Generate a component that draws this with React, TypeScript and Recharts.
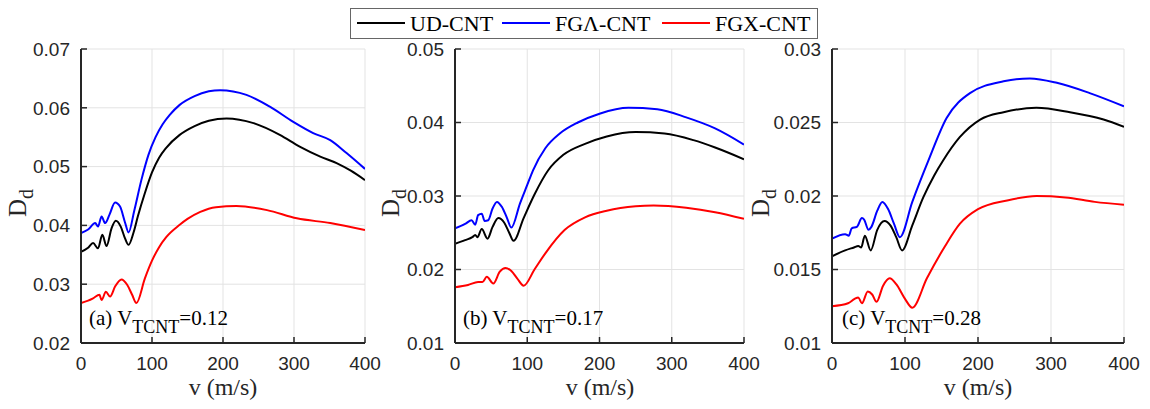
import { LineChart, Line, XAxis, YAxis, CartesianGrid } from 'recharts';

// Damping ratio D_d versus flow velocity v for three CNT distributions,
// one panel per CNT volume fraction.

type Pt = { v: number; d: number };
const pts = (rows: number[][]): Pt[] => rows.map(([v, d]) => ({ v, d }));

const X_TICKS = [0, 100, 200, 300, 400];

// ---- (a) V_TCNT = 0.12 ----
const UD_A = pts([
  [0, 0.0355], [10, 0.0362], [17, 0.037], [24, 0.0361], [30, 0.0384], [36, 0.0365],
  [43, 0.0395], [49, 0.0408], [56, 0.0398], [62, 0.0378], [67, 0.0367], [74, 0.0388],
  [80, 0.0415], [90, 0.0455], [100, 0.049], [110, 0.0515], [120, 0.0532], [139, 0.0554],
  [160, 0.0569], [180, 0.0578], [205, 0.0582], [243, 0.0574], [280, 0.0554], [308, 0.0534],
  [337, 0.0517], [360, 0.0506], [380, 0.0493], [400, 0.0477],
]);
const FGL_A = pts([
  [0, 0.0387], [10, 0.0393], [20, 0.0404], [24, 0.0398], [29, 0.0415], [34, 0.0404],
  [40, 0.0418], [48, 0.0439], [55, 0.0432], [62, 0.0405], [67, 0.0388], [75, 0.0425],
  [85, 0.0477], [95, 0.052], [105, 0.055], [115, 0.0572], [125, 0.0588], [139, 0.0605],
  [160, 0.062], [180, 0.0628], [196, 0.063], [233, 0.0622], [266, 0.0602], [299, 0.0576],
  [327, 0.0557], [351, 0.0545], [374, 0.0523], [400, 0.0496],
]);
const FGX_A = pts([
  [0, 0.0268], [10, 0.0272], [17, 0.0276], [26, 0.0282], [29, 0.0273], [35, 0.0287],
  [41, 0.0279], [48, 0.0296], [57, 0.0308], [65, 0.0299], [72, 0.0282], [78, 0.0268],
  [90, 0.031], [100, 0.034], [110, 0.0363], [120, 0.038], [139, 0.0401], [150, 0.0411],
  [168, 0.0423], [190, 0.0431], [219, 0.0433], [262, 0.0426], [304, 0.0412], [351, 0.0404],
  [400, 0.0392],
]);
const Y_TICKS_A = [0.02, 0.03, 0.04, 0.05, 0.06, 0.07];

// ---- (b) V_TCNT = 0.17 ----
const UD_B = pts([
  [0, 0.0235], [14, 0.024], [24, 0.0244], [28, 0.0247], [31, 0.0244], [37, 0.0255],
  [45, 0.0242], [52, 0.0258], [60, 0.027], [68, 0.0264], [75, 0.025], [81, 0.0239],
  [95, 0.027], [110, 0.0302], [129, 0.0335], [150, 0.0356], [180, 0.0371], [210, 0.0381],
  [250, 0.0387], [290, 0.0385], [330, 0.0376], [360, 0.0366], [400, 0.035],
]);
const FGL_B = pts([
  [0, 0.0256], [14, 0.0262], [23, 0.0267], [28, 0.0261], [32, 0.0274], [37, 0.0276],
  [41, 0.0266], [46, 0.0267], [52, 0.0283], [58, 0.0292], [65, 0.0285], [72, 0.027],
  [78, 0.0257], [90, 0.029], [100, 0.0315], [108, 0.0335], [125, 0.0365], [145, 0.0385],
  [170, 0.04], [200, 0.0412], [240, 0.042], [280, 0.0418], [320, 0.0407], [360, 0.0392],
  [400, 0.037],
]);
const FGX_B = pts([
  [0, 0.0176], [18, 0.0179], [32, 0.0183], [38, 0.0183], [44, 0.019], [53, 0.0181],
  [62, 0.0197], [70, 0.0202], [78, 0.0198], [86, 0.0188], [95, 0.0178], [110, 0.02],
  [125, 0.0222], [152, 0.0254], [180, 0.0271], [210, 0.028], [250, 0.0286], [275, 0.0287],
  [320, 0.0284], [360, 0.0278], [400, 0.0269],
]);
const Y_TICKS_B = [0.01, 0.02, 0.03, 0.04, 0.05];

// ---- (c) V_TCNT = 0.28 ----
const UD_C = pts([
  [0, 0.0159], [18, 0.0163], [30, 0.0165], [36, 0.0166], [40, 0.0165], [45, 0.0173],
  [53, 0.0163], [62, 0.0177], [72, 0.0183], [80, 0.018], [88, 0.0172], [96, 0.0163],
  [110, 0.018], [125, 0.0199], [140, 0.0214], [152, 0.0224], [175, 0.024], [203, 0.0252],
  [235, 0.0257], [280, 0.026], [326, 0.0257], [372, 0.0252], [400, 0.0247],
]);
const FGL_C = pts([
  [0, 0.0171], [18, 0.0174], [23, 0.0173], [27, 0.0178], [34, 0.0179], [41, 0.0185],
  [44, 0.0184], [50, 0.0177], [54, 0.0179], [62, 0.019], [69, 0.0196], [77, 0.0191],
  [85, 0.0181], [93, 0.0172], [110, 0.0196], [132, 0.0224], [157, 0.0253], [189, 0.027],
  [235, 0.0278], [271, 0.028], [308, 0.0277], [353, 0.027], [400, 0.0261],
]);
const FGX_C = pts([
  [0, 0.0125], [22, 0.0127], [31, 0.013], [36, 0.0131], [41, 0.0127], [49, 0.0135],
  [55, 0.0133], [61, 0.0128], [70, 0.0139], [79, 0.0144], [88, 0.014], [100, 0.013],
  [110, 0.0124], [130, 0.0144], [155, 0.0166], [175, 0.0181], [200, 0.0191], [240, 0.0197],
  [280, 0.02], [320, 0.0199], [360, 0.0196], [400, 0.0194],
]);
const Y_TICKS_C = [0.01, 0.015, 0.02, 0.025, 0.03];

const AXIS = '#262626';
const SANS = '"Liberation Sans", Arial, sans-serif';
const SERIF = '"Liberation Serif", "Times New Roman", serif';

interface PanelProps {
  left: number;
  width: number;
  marginLeft: number;
  marginRight: number;
  yTicks: number[];
  ud: Pt[];
  fgl: Pt[];
  fgx: Pt[];
}

function Panel({ left, width, marginLeft, marginRight, yTicks, ud, fgl, fgx }: PanelProps) {
  const yDomain = [yTicks[0], yTicks[yTicks.length - 1]];
  const axisLine = { stroke: AXIS, strokeWidth: 2 };
  const tickLine = { stroke: AXIS, strokeWidth: 1.5 };
  const tickFont = { fontSize: 19, fill: AXIS, fontFamily: SANS };
  return (
    <div style={{ position: 'absolute', left, top: 0 }}>
      <LineChart width={width} height={409}
        margin={{ top: 49, right: marginRight, bottom: 26, left: marginLeft }}>
        <CartesianGrid xAxisId="b" yAxisId="l" stroke="#e3e3e3" strokeWidth={1} />
        <XAxis xAxisId="b" type="number" dataKey="v" domain={[0, 400]} ticks={X_TICKS}
          interval={0} height={40} tickSize={-6} tickMargin={20}
          axisLine={axisLine} tickLine={tickLine} tick={tickFont} allowDataOverflow />
        <XAxis xAxisId="t" orientation="top" type="number" dataKey="v" domain={[0, 400]}
          ticks={X_TICKS} interval={0} height={0} tickSize={-6}
          axisLine={axisLine} tickLine={tickLine} tick={false} allowDataOverflow />
        <YAxis yAxisId="l" type="number" domain={yDomain} ticks={yTicks} interval={0}
          width={70} tickSize={-6} tickMargin={17} tickFormatter={(v: number) => String(v)}
          axisLine={axisLine} tickLine={tickLine} tick={tickFont} allowDataOverflow />
        <YAxis yAxisId="r" orientation="right" type="number" domain={yDomain} ticks={yTicks}
          interval={0} width={0} tickSize={-6}
          axisLine={axisLine} tickLine={tickLine} tick={false} allowDataOverflow />
        <Line xAxisId="b" yAxisId="l" data={ud} dataKey="d" type="monotone" stroke="#000000"
          strokeWidth={2} dot={false} isAnimationActive={false} />
        <Line xAxisId="b" yAxisId="l" data={fgl} dataKey="d" type="monotone" stroke="#0000ff"
          strokeWidth={2} dot={false} isAnimationActive={false} />
        <Line xAxisId="b" yAxisId="l" data={fgx} dataKey="d" type="monotone" stroke="#ff0000"
          strokeWidth={2} dot={false} isAnimationActive={false} />
      </LineChart>
    </div>
  );
}

// Text overlay: shared legend, axis titles and panel captions.
const PANEL_CENTERS = [223, 600, 978];
const YLABEL_X = [26, 399, 769];
const CAPTIONS = [
  { x: 89, tag: '(a)', val: '0.12' },
  { x: 463, tag: '(b)', val: '0.17' },
  { x: 842, tag: '(c)', val: '0.28' },
];
const LEGEND = [
  { name: 'UD-CNT', color: '#000000', x: 357 },
  { name: 'FGΛ-CNT', color: '#0000ff', x: 502 },
  { name: 'FGX-CNT', color: '#ff0000', x: 662 },
];

function Overlay() {
  return (
    <svg width={1150} height={409} style={{ position: 'absolute', left: 0, top: 0, pointerEvents: 'none' }}>
      <rect x={350.5} y={8.5} width={467} height={30} fill="#ffffff" stroke="#666666" strokeWidth={1} />
      {LEGEND.map((l) => (
        <g key={l.name}>
          <line x1={l.x} x2={l.x + 48} y1={23} y2={23} stroke={l.color} strokeWidth={2} />
          <text x={l.x + 53} y={31} fontSize={22} fontFamily={SERIF} fill="#000">{l.name}</text>
        </g>
      ))}
      {PANEL_CENTERS.map((cx) => (
        <text key={cx} x={cx} y={395} fontSize={24} fontFamily={SERIF} fill={AXIS} textAnchor="middle">
          v (m/s)
        </text>
      ))}
      {YLABEL_X.map((x) => (
        <text key={x} transform={`translate(${x},203) rotate(-90)`} fontSize={25}
          fontFamily={SERIF} fill={AXIS} textAnchor="middle">
          D<tspan fontSize={20} dy={7}>d</tspan>
        </text>
      ))}
      {CAPTIONS.map((c) => (
        <text key={c.tag} x={c.x} y={325} fontSize={21} fontFamily={SERIF} fill="#000">
          {c.tag} V<tspan fontSize={18} dy={8}>TCNT</tspan><tspan dy={-8}>={c.val}</tspan>
        </text>
      ))}
    </svg>
  );
}

export default function App() {
  return (
    <div style={{ position: 'absolute', left: 0, top: 0, width: 1150, height: 409, background: '#fff' }}>
      <Panel left={0} width={400} marginLeft={11} marginRight={35} yTicks={Y_TICKS_A}
        ud={UD_A} fgl={FGL_A} fgx={FGX_A} />
      <Panel left={380} width={400} marginLeft={5} marginRight={36} yTicks={Y_TICKS_B}
        ud={UD_B} fgl={FGL_B} fgx={FGX_B} />
      <Panel left={760} width={390} marginLeft={2} marginRight={26} yTicks={Y_TICKS_C}
        ud={UD_C} fgl={FGL_C} fgx={FGX_C} />
      <Overlay />
    </div>
  );
}
